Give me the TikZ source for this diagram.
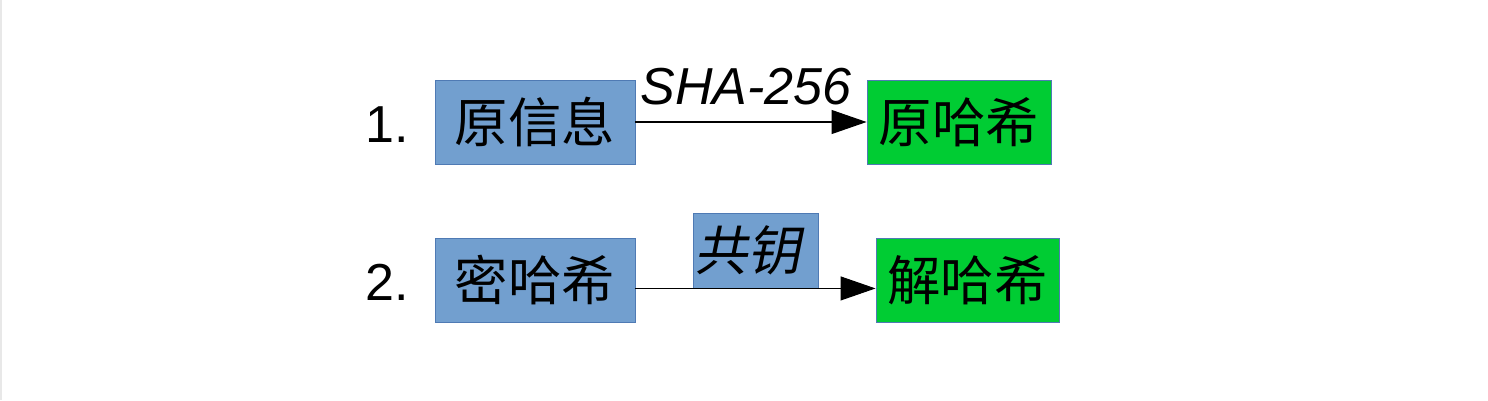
\documentclass[tikz,border=0pt]{standalone}
\usepackage{fontspec}
\setmainfont{Liberation Sans}
\newfontfamily\cjk{Noto Sans CJK SC}
\newfontfamily\cjkit[FakeSlant=0.2]{Noto Sans CJK SC}
\usetikzlibrary{arrows.meta}
\definecolor{boxblue}{HTML}{729FCF}
\definecolor{boxgreen}{HTML}{00CC33}
\definecolor{edgeblue}{HTML}{4F7AB4}
\definecolor{leftline}{HTML}{E8E8E8}
\tikzset{
  box/.style={draw=edgeblue, line width=0.25pt, inner sep=0pt, minimum height=0.84cm,
    font=\fontsize{15.2}{16}\selectfont\cjk},
  bluebox/.style={box, fill=boxblue},
  greenbox/.style={box, fill=boxgreen},
  conn/.style={line width=0.3pt, -{Triangle[length=0.35cm,width=0.24cm]}},
  plain/.style={font=\fontsize{14.8}{16}\selectfont, inner sep=0pt},
}
\begin{document}
\begin{tikzpicture}
\useasboundingbox (0,0) rectangle (14.88,4);
\draw[leftline, line width=0.6pt] (0.01,0) -- (0.01,4);

\node[bluebox, minimum width=2.0cm] (a1) at (5.35,2.78) {原信息};
\node[greenbox, minimum width=1.84cm] (a2) at (9.59,2.78) {原哈希};
\node[bluebox, minimum width=2.0cm] (b1) at (5.35,1.20) {密哈希};
\node[greenbox, minimum width=1.83cm] (b2) at (9.675,1.20) {解哈希};
\node[bluebox, minimum width=1.25cm, minimum height=0.75cm, font=\fontsize{15.2}{16}\selectfont\cjkit] (key) at (7.555,1.495) {\hspace*{-0.16cm}\raisebox{-0.05cm}{共钥}};

\node[plain, anchor=base west] (n1) at (3.65,2.58) {1.};
\node[plain, anchor=base west] (n2) at (3.65,1.00) {2.};
\node[plain, anchor=base west, font=\fontsize{14.8}{16}\selectfont\itshape] (sha) at (6.40,2.96) {SHA-256};

\draw[conn] (a1) -- (a2);
\draw[conn] (b1.east |- key.south) -- (b2.west |- key.south);
\end{tikzpicture}
\end{document}
